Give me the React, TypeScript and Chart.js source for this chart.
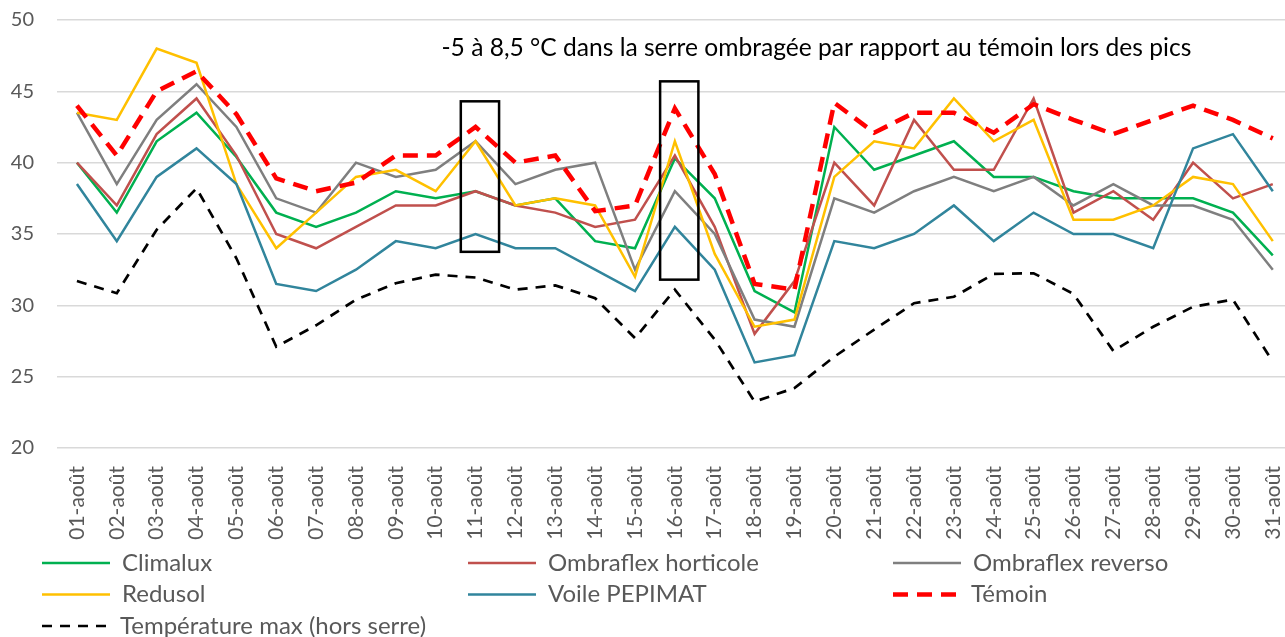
import React, { useEffect, useRef } from 'react';
import { Chart, registerables } from 'chart.js';

Chart.register(...registerables);

const labels = [
  '01-août', '02-août', '03-août', '04-août', '05-août', '06-août', '07-août', '08-août',
  '09-août', '10-août', '11-août', '12-août', '13-août', '14-août', '15-août', '16-août',
  '17-août', '18-août', '19-août', '20-août', '21-août', '22-août', '23-août', '24-août',
  '25-août', '26-août', '27-août', '28-août', '29-août', '30-août', '31-août',
];

const climalux = [40, 36.5, 41.5, 43.5, 40.4, 36.5, 35.5, 36.5, 38, 37.5, 38, 37, 37.5, 34.5, 34, 40.3, 37.5, 31, 29.5, 42.5, 39.5, 40.5, 41.5, 39, 39, 38, 37.5, 37.5, 37.5, 36.5, 33.5];
const ombraflexHorticole = [40, 37, 42, 44.5, 40.5, 35, 34, 35.5, 37, 37, 38, 37, 36.5, 35.5, 36, 40.5, 35.5, 28, 31.7, 40, 37, 43, 39.5, 39.5, 44.5, 36.5, 38, 36, 40, 37.5, 38.5];
const ombraflexReverso = [43.5, 38.5, 43, 45.5, 42.5, 37.5, 36.5, 40, 39, 39.5, 41.5, 38.5, 39.5, 40, 32.5, 38, 35, 29, 28.5, 37.5, 36.5, 38, 39, 38, 39, 37, 38.5, 37, 37, 36, 32.5];
const redusol = [43.5, 43, 48, 47, 38.5, 34, 36.5, 39, 39.5, 38, 41.5, 37, 37.5, 37, 32, 41.5, 33.6, 28.5, 29, 39, 41.5, 41, 44.5, 41.5, 43, 36, 36, 37, 39, 38.5, 34.5];
const voilePepimat = [38.5, 34.5, 39, 41, 38.5, 31.5, 31, 32.5, 34.5, 34, 35, 34, 34, 32.5, 31, 35.5, 32.5, 26, 26.5, 34.5, 34, 35, 37, 34.5, 36.5, 35, 35, 34, 41, 42, 38];
const temoin = [44, 40.5, 45, 46.4, 43.4, 38.9, 38, 38.6, 40.5, 40.5, 42.5, 40, 40.5, 36.6, 37, 43.8, 39.2, 31.5, 31.1, 44.2, 42.1, 43.5, 43.5, 42.1, 44.1, 43, 42, 43, 44, 43, 41.7];
const temperatureMax = [31.7, 30.85, 35.3, 38.2, 33.3, 27.1, 28.6, 30.4, 31.55, 32.15, 31.95, 31.1, 31.4, 30.5, 27.7, 31.1, 27.6, 23.25, 24.2, 26.4, 28.3, 30.15, 30.6, 32.2, 32.25, 30.8, 26.8, 28.5, 29.9, 30.4, 26.05];

const yTicks = [20, 25, 30, 35, 40, 45, 50];

// Highlight boxes: category index, top & bottom values
const boxIndex = [10, 15];
const boxTop = [44.3, 45.7];
const boxBottom = [33.75, 31.8];

const annotationText = '-5 à 8,5 °C dans la serre ombragée par rapport au témoin lors des pics';
const annotationValue = 48;

const FONT = 'Lato, "Open Sans", sans-serif';
const SHIFT = 15; // canvas is shifted up by this many px

const seriesDefs = [
  { label: 'Climalux', data: climalux, color: '#00B050', width: 2.5, dash: [] as number[] },
  { label: 'Ombraflex horticole', data: ombraflexHorticole, color: '#C0504D', width: 2.5, dash: [] as number[] },
  { label: 'Ombraflex reverso', data: ombraflexReverso, color: '#7F7F7F', width: 2.5, dash: [] as number[] },
  { label: 'Redusol', data: redusol, color: '#FFC000', width: 2.5, dash: [] as number[] },
  { label: 'Voile PEPIMAT', data: voilePepimat, color: '#31859C', width: 2.5, dash: [] as number[] },
  { label: 'Témoin', data: temoin, color: '#FF0000', width: 4.5, dash: [15, 9] },
  { label: 'Température max (hors serre)', data: temperatureMax, color: '#000000', width: 2.7, dash: [10, 8] },
];

const overlayPlugin = {
  id: 'overlay',
  afterDatasetsDraw(chart: any) {
    const { ctx, scales } = chart;
    const x = scales.x;
    const y = scales.y;
    ctx.save();
    ctx.strokeStyle = '#000000';
    ctx.lineWidth = 2.5;
    ctx.setLineDash([]);
    boxIndex.forEach((idx, i) => {
      const l = x.getPixelForValue(idx - 0.37);
      const r = x.getPixelForValue(idx + 0.59);
      const t = y.getPixelForValue(boxTop[i]);
      const b = y.getPixelForValue(boxBottom[i]);
      ctx.strokeRect(l, t, r - l, b - t);
    });
    ctx.fillStyle = '#000000';
    ctx.font = `24.6px ${FONT}`;
    ctx.textAlign = 'center';
    ctx.textBaseline = 'middle';
    ctx.fillText(annotationText, x.getPixelForValue(18.55), y.getPixelForValue(annotationValue));
    ctx.restore();
  },
  afterDraw(chart: any) {
    const { ctx } = chart;
    const colX = [42, 468, 893];
    const rowY = [563, 594.5, 626].map((v) => v + SHIFT);
    ctx.save();
    ctx.font = `24px ${FONT}`;
    ctx.textAlign = 'left';
    ctx.textBaseline = 'middle';
    chart.data.datasets.forEach((ds: any, i: number) => {
      const col = i % 3;
      const row = Math.floor(i / 3);
      const x0 = colX[col];
      const yy = rowY[row];
      const lineLen = ds.borderDash && ds.borderDash.length ? 66 : 68;
      ctx.strokeStyle = ds.borderColor;
      ctx.lineWidth = ds.borderWidth;
      ctx.setLineDash(ds.borderDash || []);
      ctx.beginPath();
      ctx.moveTo(x0, yy);
      ctx.lineTo(x0 + lineLen, yy);
      ctx.stroke();
      ctx.setLineDash([]);
      ctx.fillStyle = '#595959';
      ctx.fillText(ds.label, x0 + lineLen + 12, yy);
    });
    ctx.restore();
  },
};

export default function App() {
  const canvasRef = useRef<HTMLCanvasElement | null>(null);

  useEffect(() => {
    if (!canvasRef.current) return;
    const chart = new Chart(canvasRef.current, {
      type: 'line',
      data: {
        labels,
        datasets: seriesDefs.map((s, i) => ({
          label: s.label,
          data: s.data,
          borderColor: s.color,
          backgroundColor: s.color,
          borderWidth: s.width,
          borderDash: s.dash,
          pointRadius: 0,
          pointHoverRadius: 0,
          tension: 0,
          fill: false,
          order: seriesDefs.length - i,
        })),
      },
      options: {
        animation: false,
        responsive: true,
        maintainAspectRatio: false,
        layout: { padding: { top: 0, right: 0, left: 0, bottom: 0 } },
        plugins: {
          legend: { display: false },
          tooltip: { enabled: false },
          title: { display: false },
        },
        scales: {
          x: {
            offset: true,
            grid: { display: false, drawTicks: false },
            border: { display: false },
            ticks: {
              autoSkip: false,
              maxRotation: 90,
              minRotation: 90,
              padding: 18,
              color: '#595959',
              font: { family: FONT, size: 21 },
            },
            afterFit: (scale: any) => {
              scale.height = 189;
            },
          },
          y: {
            min: 20,
            max: 50,
            afterBuildTicks: (scale: any) => {
              scale.ticks = yTicks.map((v) => ({ value: v }));
            },
            ticks: {
              padding: 23,
              color: '#595959',
              font: { family: FONT, size: 20 },
            },
            grid: { color: '#D9D9D9', lineWidth: 1.5, drawTicks: false },
            border: { display: false },
            afterFit: (scale: any) => {
              scale.width = 57;
            },
          },
        },
      },
      plugins: [overlayPlugin],
    });
    return () => chart.destroy();
  }, []);

  return (
    <div style={{ position: 'fixed', left: 0, top: 0, width: 1285, height: 637, overflow: 'hidden', background: '#fff' }}>
      <div style={{ position: 'absolute', left: 0, top: -SHIFT, width: 1316, height: 637 + SHIFT }}>
        <canvas ref={canvasRef} />
      </div>
    </div>
  );
}
